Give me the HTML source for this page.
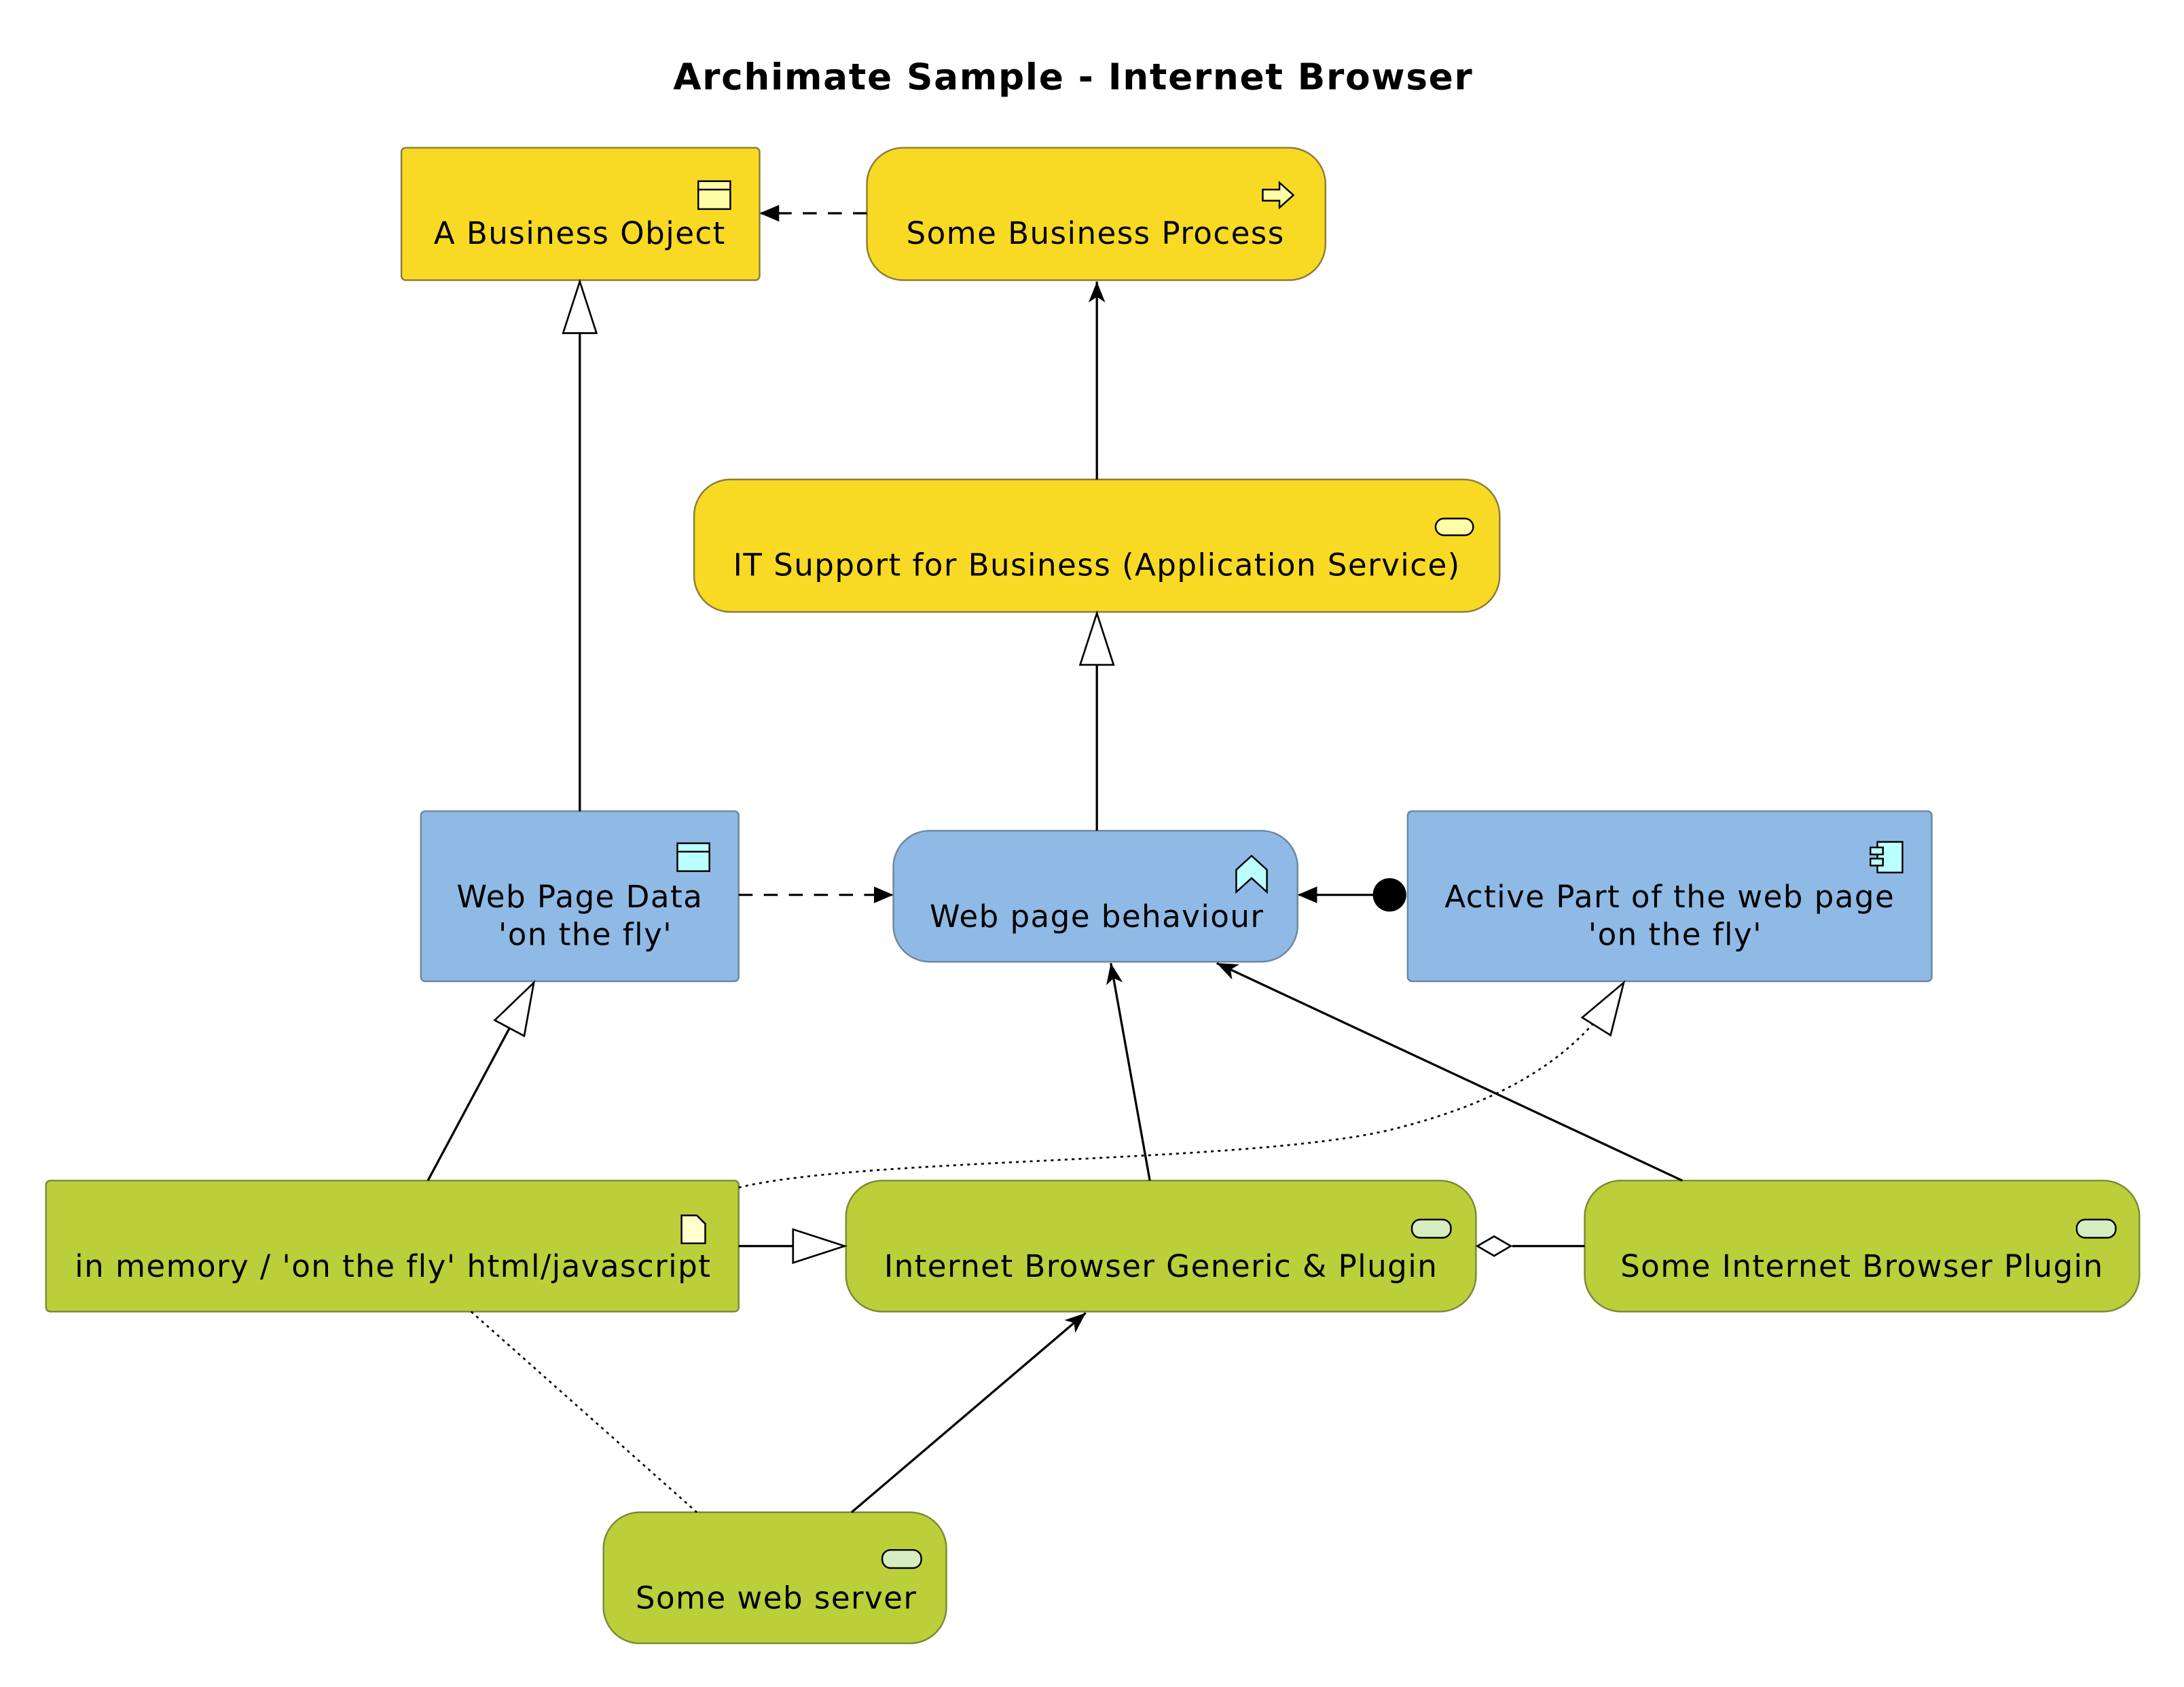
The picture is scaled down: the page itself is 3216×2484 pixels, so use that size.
<!DOCTYPE html>
<html><head><meta charset="utf-8"><style>html,body{margin:0;padding:0;background:#fff}svg{display:block}</style></head>
<body>
<svg width="3216" height="2484" viewBox="0 0 1567 1210" preserveAspectRatio="xMinYMin meet" xmlns="http://www.w3.org/2000/svg" font-family="DejaVu Sans, Liberation Sans, sans-serif">
<defs>
<marker id="fa" markerWidth="14" markerHeight="12" refX="13" refY="6" orient="auto" markerUnits="userSpaceOnUse"><path d="M0,0 L14,6 L0,12 Z" fill="#000"/></marker>
<marker id="oa" markerWidth="16" markerHeight="14" refX="15" refY="7" orient="auto" markerUnits="userSpaceOnUse"><path d="M0,1 L15,7 L0,13 L4,7 Z" fill="#000"/></marker>
<marker id="tri" markerWidth="40" markerHeight="26" refX="38" refY="13" orient="auto" markerUnits="userSpaceOnUse"><path d="M1,1 L38,13 L1,25 Z" fill="#fff" stroke="#000" stroke-width="1.3"/></marker>
</defs>
<text x="770" y="64" text-anchor="middle" font-size="26" font-weight="bold" letter-spacing="0.8">Archimate Sample - Internet Browser</text>

<g stroke="#8a7d3a" stroke-width="1.2">
<rect x="288" y="106" width="257" height="95" rx="3" fill="#F8DA24"/>
<rect x="622" y="106" width="329" height="95" rx="26" fill="#F8DA24"/>
<rect x="498" y="344" width="578" height="95" rx="26" fill="#F8DA24"/>
</g>
<g stroke="#6f87a0" stroke-width="1.2">
<rect x="302" y="582" width="228" height="122" rx="3" fill="#8FBAE5"/>
<rect x="641" y="596" width="290" height="94" rx="26" fill="#8FBAE5"/>
<rect x="1010" y="582" width="376" height="122" rx="3" fill="#8FBAE5"/>
</g>
<g stroke="#7d8a35" stroke-width="1.2">
<rect x="33" y="847" width="497" height="94" rx="3" fill="#BACF3A"/>
<rect x="607" y="847" width="452" height="94" rx="26" fill="#BACF3A"/>
<rect x="1137" y="847" width="398" height="94" rx="26" fill="#BACF3A"/>
<rect x="433" y="1085" width="246" height="94" rx="26" fill="#BACF3A"/>
</g>

<g stroke="#000" stroke-width="1.2">
<rect x="501" y="130" width="23" height="20" fill="#ffffa8"/><line x1="501" y1="136" x2="524" y2="136"/>
<path d="M906,136 h12 v-5 l10,9 l-10,9 v-5 h-12 Z" fill="#ffffa8"/>
<rect x="1030" y="372" width="27" height="12" rx="6" fill="#ffffa8"/>
<rect x="486" y="605" width="23" height="20" fill="#bff"/><line x1="486" y1="611" x2="509" y2="611"/>
<path d="M887,640 v-16 l11,-10 l11,10 v16 l-11,-10 Z" fill="#bff"/>
<rect x="1347" y="604" width="18" height="22" fill="#bff"/><rect x="1342" y="608" width="9" height="5" fill="#bff"/><rect x="1342" y="616" width="9" height="5" fill="#bff"/>
<path d="M489,872 h11 l6,6 v14 h-17 Z" fill="#ffffcc"/>
<rect x="1013" y="875" width="28" height="13" rx="6" fill="#d6edc0"/>
<rect x="1490" y="875" width="28" height="13" rx="6" fill="#d6edc0"/>
<rect x="633" y="1112" width="28" height="13" rx="6" fill="#d6edc0"/>
</g>

<g font-size="22" letter-spacing="0.7" fill="#000" text-anchor="middle">
<text x="416" y="175">A Business Object</text>
<text x="786" y="175">Some Business Process</text>
<text x="787" y="413">IT Support for Business (Application Service)</text>
<text x="416" y="651">Web Page Data</text>
<text x="420" y="678">'on the fly'</text>
<text x="787" y="665">Web page behaviour</text>
<text x="1198" y="651">Active Part of the web page</text>
<text x="1202" y="678">'on the fly'</text>
<text x="282" y="916">in memory / 'on the fly' html/javascript</text>
<text x="833" y="916">Internet Browser Generic &amp; Plugin</text>
<text x="1336" y="916">Some Internet Browser Plugin</text>
<text x="557" y="1154">Some web server</text>
</g>

<g stroke="#000" stroke-width="1.6" fill="none">
<line x1="622" y1="153" x2="546" y2="153" stroke-dasharray="10,8" marker-end="url(#fa)"/>
<line x1="787" y1="344" x2="787" y2="202" marker-end="url(#oa)"/>
<line x1="416" y1="582" x2="416" y2="202" marker-end="url(#tri)"/>
<line x1="787" y1="596" x2="787" y2="440" marker-end="url(#tri)"/>
<line x1="530" y1="642" x2="640" y2="642" stroke-dasharray="10,8" marker-end="url(#fa)"/>
<line x1="997" y1="642" x2="932" y2="642" marker-end="url(#fa)"/>
<line x1="307" y1="847" x2="383" y2="705" marker-end="url(#tri)"/>
<line x1="825" y1="847" x2="797" y2="691" marker-end="url(#oa)"/>
<line x1="1207" y1="847" x2="873" y2="691" marker-end="url(#oa)"/>
<path d="M530,852 C620,830 900,835 1000,810 C1100,785 1140,745 1165,705" stroke-width="1.3" stroke-dasharray="2,3" marker-end="url(#tri)"/>
<line x1="530" y1="894" x2="606" y2="894" marker-end="url(#tri)"/>
<line x1="1137" y1="894" x2="1085" y2="894"/>
<line x1="611" y1="1085" x2="779" y2="942" marker-end="url(#oa)"/>
<line x1="338" y1="941" x2="500" y2="1085" stroke-width="1.3" stroke-dasharray="2,3"/>
</g>
<circle cx="997" cy="642" r="12" fill="#000"/>
<path d="M1060,894 L1072,887 L1084,894 L1072,901 Z" fill="#fff" stroke="#000" stroke-width="1.3"/>
</svg>
</body></html>
